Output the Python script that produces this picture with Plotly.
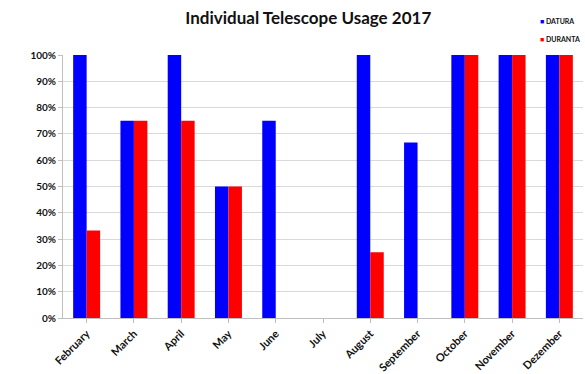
import plotly.graph_objects as go

months = ["February", "March", "April", "May", "June", "July",
          "August", "September", "October", "November", "Dezember"]
datura = [1.0, 0.75, 1.0, 0.5, 0.75, None, 1.0, 0.667, 1.0, 1.0, 1.0]
duranta = [0.333, 0.75, 0.75, 0.5, None, None, 0.25, None, 1.0, 1.0, 1.0]
series_names = ["DATURA", "DURANTA"]

BLUE, RED = "#0000ff", "#ff0000"

fig = go.Figure()
fig.add_trace(go.Bar(name=series_names[0], x=months, y=datura,
                     marker=dict(color=BLUE, line=dict(width=0))))
fig.add_trace(go.Bar(name=series_names[1], x=months, y=duranta,
                     marker=dict(color=RED, line=dict(width=0))))

# compact key in the top-right corner
for i, (name, col) in enumerate(zip(series_names, [BLUE, RED])):
    fig.add_annotation(
        xref="paper", yref="paper", x=0.913, y=1.128 - i * 0.068,
        xanchor="left", yanchor="middle", showarrow=False,
        text=f"<span style='color:{col}'>■</span> {name}",
        font=dict(size=7, family="Lato", weight="bold", color="#111"))

fig.update_layout(
    width=585, height=374,
    margin=dict(l=63, r=2, t=55, b=56, autoexpand=False),
    paper_bgcolor="white", plot_bgcolor="white",
    barmode="group", bargap=0.43, bargroupgap=0,
    showlegend=False,
    font=dict(family="Lato", color="#222"),
    title=dict(text="Individual Telescope Usage 2017",
               x=0.527, xanchor="center", y=0.952, yanchor="middle",
               font=dict(size=17, family="Lato", weight="bold", color="#111")),
    xaxis=dict(tickangle=-45, showline=True, linecolor="#bfbfbf",
               ticks="outside", ticklen=4, tickcolor="#bfbfbf",
               tickfont=dict(size=11, family="Lato", weight="bold", color="#111"),
               showgrid=False),
    yaxis=dict(range=[0, 1.0], tickformat=".0%", dtick=0.1,
               showline=True, linecolor="#bfbfbf",
               ticks="outside", ticklen=4, tickcolor="#bfbfbf",
               gridcolor="#d9d9d9", gridwidth=1,
               tickfont=dict(size=10, family="Lato", weight="bold", color="#111"),
               zeroline=False),
)

fig.write_html("out.html")
